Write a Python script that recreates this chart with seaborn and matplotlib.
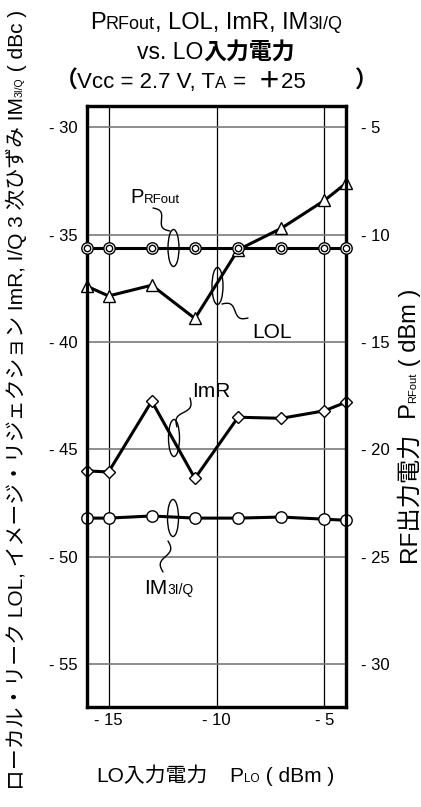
import matplotlib
matplotlib.use("Agg")
import matplotlib.pyplot as plt
import seaborn as sns
import numpy as np
from matplotlib.transforms import IdentityTransform
from matplotlib.patches import Ellipse
from matplotlib.lines import Line2D

# ---------------- data ----------------
lo_power = [-16, -15, -13, -11, -9, -7, -5, -4]
prf_out = [-10.6, -10.6, -10.6, -10.6, -10.6, -10.6, -10.6, -10.6]
lol = [-37.4, -37.85, -37.35, -38.9, -35.7, -34.7, -33.4, -32.6]
imr = [-46.0, -46.05, -42.75, -46.35, -43.5, -43.55, -43.2, -42.8]
im3 = [-48.2, -48.2, -48.1, -48.2, -48.2, -48.15, -48.25, -48.3]

left_ticks = [-30, -35, -40, -45, -50, -55]
left_labels = ["- 30", "- 35", "- 40", "- 45", "- 50", "- 55"]
right_ticks = [-5, -10, -15, -20, -25, -30]
right_labels = ["- 5", "- 10", "- 15", "- 20", "- 25", "- 30"]
x_ticks = [-15, -10, -5]
x_labels = ["- 15", "- 10", "- 5"]

# ---------------- style ----------------
sns.set_theme(style="white")
plt.rcParams["font.family"] = ["Liberation Sans", "Noto Sans CJK JP", "DejaVu Sans"]

W, H = 421, 807
fig = plt.figure(figsize=(W / 100, H / 100), dpi=100)
fig.patch.set_facecolor("white")
ax = fig.add_axes([87 / W, 1 - 707 / H, 259 / W, 601 / H])
ax2 = ax.twinx()

line_kw = dict(color="black", linewidth=2.2, mfc="white", mec="black", mew=1.0, clip_on=False)
sns.lineplot(x=lo_power, y=lol, ax=ax, marker="^", markersize=9, zorder=5, **line_kw)
sns.lineplot(x=lo_power, y=imr, ax=ax, marker="D", markersize=6.3, zorder=5, **line_kw)
sns.lineplot(x=lo_power, y=im3, ax=ax, marker="o", markersize=8.2, zorder=5, **line_kw)
sns.lineplot(x=lo_power, y=prf_out, ax=ax2, marker="o", markersize=8.2, zorder=5, **line_kw)
sns.lineplot(x=lo_power, y=prf_out, ax=ax2, marker="o", markersize=4.6, linestyle="",
             color="black", mfc="white", mec="black", mew=1.0, zorder=6, clip_on=False)

ax.set_xlim(-16, -4)
ax.set_ylim(-57, -29)
ax2.set_ylim(-32, -4)

ax.set_xticks(x_ticks)
ax.set_xticklabels(x_labels)
ax.set_yticks(left_ticks)
ax.set_yticklabels(left_labels)
ax2.set_yticks(right_ticks)
ax2.set_yticklabels(right_labels)

ax.yaxis.grid(True, color="#7a7a7a", linewidth=1.2)
ax.xaxis.grid(True, color="black", linewidth=0.9)
ax.set_axisbelow(True)
ax2.grid(False)
ax.set_xlabel("")
ax.set_ylabel("")
ax2.set_ylabel("")

ax.tick_params(axis="both", length=0, labelsize=12, colors="black")
ax.tick_params(axis="y", pad=7)
ax.tick_params(axis="x", pad=4)
ax2.tick_params(axis="y", length=0, labelsize=12, pad=11, colors="black")
for a in (ax, ax2):
    for s in a.spines.values():
        s.set_linewidth(2.3)
        s.set_color("black")

# ---------------- rich text helper ----------------
renderer = fig.canvas.get_renderer()


def measure(s, kw):
    t1 = fig.text(0, 0, "|" + s + "|", **kw)
    t2 = fig.text(0, 0, "||", **kw)
    w = t1.get_window_extent(renderer).width - t2.get_window_extent(renderer).width
    t1.remove()
    t2.remove()
    return w


def rich(x, y, segs, rot=0):
    widths = [measure(s, kw) for s, kw in segs]
    pos = -sum(widths) / 2
    for (s, kw), w in zip(segs, widths):
        if rot == 0:
            fig.text(x + pos, y, s, transform=IdentityTransform(), ha="left",
                     va="baseline", color="black", **kw)
        else:
            fig.text(x, y + pos, s, transform=IdentityTransform(), rotation=90,
                     rotation_mode="anchor", ha="left", va="baseline", color="black", **kw)
        pos += w


big = dict(fontsize=17)
bigb = dict(fontsize=16.5, fontweight="bold")
sub = dict(fontsize=13)
rich(216, H - 29, [("P", big), ("RFout", sub), (", LOL, ImR, IM", big), ("3I/Q", sub)])
rich(216, H - 59, [("vs. LO", dict(fontsize=16.5)), ("入力電力", bigb)])
rich(216, H - 88, [("（", bigb), ("Vcc = 2.7 V, T", dict(fontsize=16)), ("A", dict(fontsize=12)),
                   (" =  ", dict(fontsize=16)), ("＋", bigb), ("25        ", dict(fontsize=16)),
                   ("）", bigb)])

lab = dict(fontsize=15)
labs = dict(fontsize=7.5)
rich(23, H - 400, [("ローカル・リーク LOL, イメージ・リジェクション ImR, I/Q 3 次ひずみ IM", lab),
                   ("3I/Q", labs), (" ( dBc )", lab)], rot=90)
rich(416, H - 425, [("RF出力電力", dict(fontsize=17.5)), ("  P", dict(fontsize=17)),
                    ("RFout", dict(fontsize=8)), (" ( dBm )", dict(fontsize=17))], rot=90)
rich(215, H - 782, [("LO入力電力", lab), ("    P", lab), ("LO", dict(fontsize=8.5)),
                    (" ( dBm )", lab)])

# curve labels
rich(155, H - 203, [("P", dict(fontsize=14.5)), ("RFout", dict(fontsize=9.5))])
rich(272, H - 338, [("LOL", dict(fontsize=15))])
rich(211, H - 397, [("ImR", dict(fontsize=15))])
rich(169, H - 594, [("IM", dict(fontsize=15)), ("3I/Q", dict(fontsize=10))])

# ---------------- leader ellipses and squiggles (decoration) ----------------
def ell(cx, cy, w, h):
    fig.add_artist(Ellipse((cx, H - cy), w, h, transform=IdentityTransform(),
                           fill=False, edgecolor="black", linewidth=1.0, zorder=10))


def squiggle(p0, p1, amp=4):
    t = np.linspace(0, 1, 40)
    x0, y0 = p0[0], H - p0[1]
    x1, y1 = p1[0], H - p1[1]
    dx, dy = x1 - x0, y1 - y0
    L = np.hypot(dx, dy)
    nx, ny = -dy / L, dx / L
    s = amp * np.sin(2 * np.pi * t)
    xs = x0 + t * dx + nx * s
    ys = y0 + t * dy + ny * s
    fig.add_artist(Line2D(xs, ys, transform=IdentityTransform(), color="black",
                          linewidth=1.0, zorder=10))


ell(173.5, 248, 11, 37)
squiggle((153, 208), (170, 231))
ell(217.5, 286, 11, 37)
squiggle((222, 304), (248, 318))
ell(174, 438, 11, 37)
squiggle((190, 398), (177, 427))
ell(173, 518, 11, 37)
squiggle((168, 541), (163, 572))

fig.savefig("out.png", dpi=100)
